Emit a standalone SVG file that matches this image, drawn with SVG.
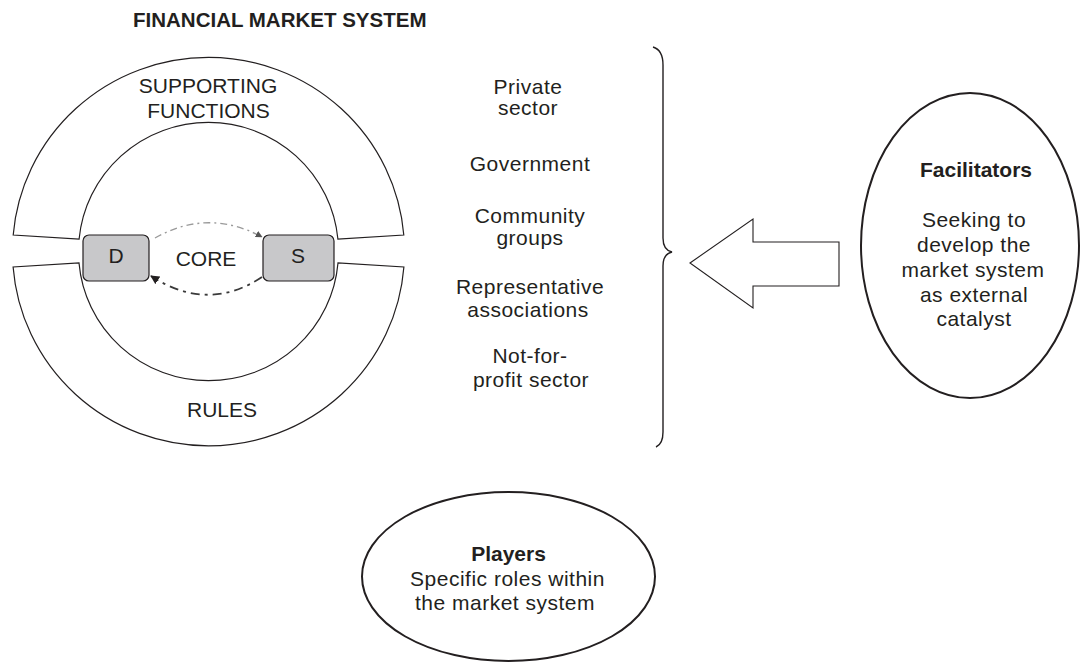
<svg xmlns="http://www.w3.org/2000/svg" width="1081" height="665" viewBox="0 0 1081 665">
<style>
  text { font-family: "Liberation Sans", Arial, sans-serif; fill: #231f20; }
  .lbl { font-size: 21px; text-anchor: middle; }
  .body { font-size: 21px; text-anchor: middle; letter-spacing: 0.5px; }
  .bold { font-weight: bold; }
  .ring { fill: #ffffff; stroke: #231f20; stroke-width: 1.2; }
  .box { fill: #c8c8ca; stroke: #231f20; stroke-width: 1.2; }
  .oval { fill: #ffffff; stroke: #231f20; stroke-width: 2; }
  .brace { fill: none; stroke: #231f20; stroke-width: 1.4; }
  .bigarrow { fill: #ffffff; stroke: #231f20; stroke-width: 1.1; }
</style>
<defs>
  <marker id="ahLight" viewBox="0 0 10 10" refX="9" refY="5" markerWidth="7" markerHeight="7" orient="auto" markerUnits="userSpaceOnUse">
    <path d="M0,0 L10,5 L0,10 Z" fill="#555"/>
  </marker>
  <marker id="ahDark" viewBox="0 0 10 10" refX="9" refY="5" markerWidth="9" markerHeight="9" orient="auto" markerUnits="userSpaceOnUse">
    <path d="M0,0 L10,5 L0,10 Z" fill="#231f20"/>
  </marker>
</defs>

<g id="title">
  <text x="133" y="27" font-size="20.5" font-weight="bold">FINANCIAL MARKET SYSTEM</text>
</g>

<g id="supporting-functions">
  <path class="ring" d="M 13.2 235 A 196 194 0 0 1 403.8 235 L 337.9 239 A 130 129 0 0 0 79.1 239 Z"/>
  <text class="lbl" x="208" y="93">SUPPORTING</text>
  <text class="lbl" x="208.5" y="118">FUNCTIONS</text>
</g>

<g id="rules">
  <path class="ring" d="M 13.1 267 A 196 194 0 0 0 403.9 267 L 338 263 A 130 129 0 0 1 79 263 Z"/>
  <text class="lbl" x="222" y="417">RULES</text>
</g>

<g id="core">
  <text class="lbl" x="206" y="266">CORE</text>
</g>

<g id="demand">
  <rect class="box" x="83" y="235" width="66" height="46" rx="6"/>
  <text class="lbl" x="116" y="263">D</text>
</g>

<g id="supply">
  <rect class="box" x="263" y="235" width="71" height="46" rx="6"/>
  <text class="lbl" x="298" y="263">S</text>
</g>

<g id="connectors">
  <path d="M 155 238 Q 208 208 262 237" fill="none" stroke="#9a9a9a" stroke-width="1.4" stroke-dasharray="7 4 2 4" marker-end="url(#ahLight)"/>
  <path d="M 262 277 Q 208 313 151 276" fill="none" stroke="#3a3a3a" stroke-width="1.8" stroke-dasharray="9 5 3 5" marker-end="url(#ahDark)"/>
  <path class="brace" d="M 653 47 Q 663 50 663 65 L 663 238 Q 663 250 672 252 Q 663 254 663 266 L 663 432 Q 663 444 656 447"/>
  <polygon class="bigarrow" points="690,263 753,219 753,242 839,242 839,286 753,286 753,308"/>
</g>

<g id="player-types">
  <text class="body" x="528" y="94">Private</text>
  <text class="body" x="528" y="115">sector</text>
  <text class="body" x="530" y="171">Government</text>
  <text class="body" x="530" y="223">Community</text>
  <text class="body" x="530" y="245">groups</text>
  <text class="body" x="530" y="294">Representative</text>
  <text class="body" x="528" y="317">associations</text>
  <text class="body" x="530" y="363">Not-for-</text>
  <text class="body" x="531" y="387">profit sector</text>
</g>

<g id="facilitators">
  <ellipse class="oval" cx="970" cy="245.5" rx="109" ry="152.5"/>
  <text class="lbl bold" x="976" y="177">Facilitators</text>
  <text class="body" x="974" y="227">Seeking to</text>
  <text class="body" x="974" y="252">develop the</text>
  <text class="body" x="973" y="277">market system</text>
  <text class="body" x="974" y="302">as external</text>
  <text class="body" x="974" y="326">catalyst</text>
</g>

<g id="players">
  <ellipse class="oval" cx="508.5" cy="576.5" rx="146.5" ry="84.5"/>
  <text class="lbl bold" x="508.5" y="561">Players</text>
  <text class="body" x="507.5" y="586">Specific roles within</text>
  <text class="body" x="505" y="610">the market system</text>
</g>
</svg>
